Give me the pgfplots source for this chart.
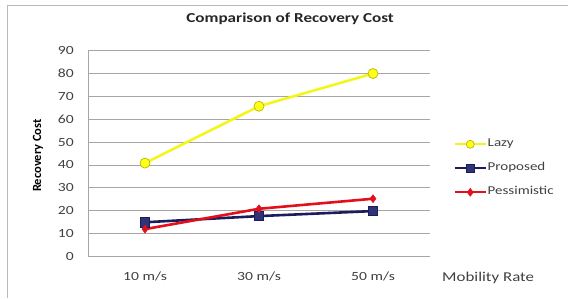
\documentclass[border=0pt]{standalone}
\usepackage{fontspec}
\setmainfont{Carlito}[FakeStretch=1.25]
\newfontfamily\yfont{Carlito}
\usepackage{pgfplots}
\pgfplotsset{compat=1.18}
\definecolor{lazyc}{HTML}{F5F51E}
\definecolor{lazyf}{HTML}{FFFF1A}
\definecolor{lazye}{HTML}{B8B800}
\definecolor{propc}{HTML}{1C1C5C}
\definecolor{propf}{HTML}{2F3477}
\definecolor{pessc}{HTML}{E3101C}
\definecolor{gridc}{HTML}{A6A6A6}
\definecolor{txtc}{HTML}{404040}
\begin{document}
\begin{tikzpicture}[x=1pt,y=1pt]
\path[use as bounding box] (0,0) rectangle (568,298);
\draw[gray!55, line width=0.8pt] (7,0)--(7,293)--(568,293);
\begin{axis}[
  at={(88pt,41.7pt)}, anchor=south west,
  width=342pt, height=205.6pt, scale only axis,
  xmin=-0.5, xmax=2.5, ymin=0, ymax=90,
  xtick={0,1,2}, xticklabels={10 m/s,30 m/s,50 m/s},
  ytick={0,10,...,90},
  axis lines=left, axis line style={-, draw=gridc, line width=0.8pt},
  major tick length=0pt,
  ymajorgrids, grid style={gridc, line width=0.8pt},
  /pgf/number format/assume math mode=true,
  tick label style={font=\fontsize{12.5}{14}\selectfont, text=txtc},
  yticklabel style={inner sep=0pt, xshift=-14pt},
  xticklabel style={inner sep=0pt, yshift=-15pt},
  title={\textbf{Comparison of Recovery Cost}},
  title style={at={(rel axis cs:0.591,1.125)}, anchor=center, font=\fontsize{13.7}{15}\selectfont, text=black!85},
  xlabel={Mobility Rate},
  xlabel style={at={(rel axis cs:1.17,-0.1055)}, anchor=center, font=\fontsize{13.5}{15}\selectfont, text=txtc},
  ylabel={\yfont\bfseries Recovery Cost},
  ylabel style={at={(rel axis cs:-0.146,0.49)}, anchor=center, rotate=0, font=\fontsize{12.5}{14}\selectfont, text=black},
  legend style={at={(rel axis cs:1.069,0.428)}, anchor=west, draw=none, fill=none, inner sep=0pt,
    row sep=11pt, font=\fontsize{12}{14}\selectfont, text=txtc,
    nodes={inner sep=1pt, text height=8pt, text depth=3pt, anchor=west}},
  legend cell align=left,
  legend image post style={line width=1.9pt, mark size=4pt},
  legend image code/.code={\draw[mark repeat=2,mark phase=2] plot coordinates {(0pt,0pt) (15.5pt,0pt) (31pt,0pt)};},
]
\addplot[lazyc, line width=2.6pt, mark=*, mark size=5pt, mark options={fill=lazyf, draw=lazye, line width=0.7pt}]
  coordinates {(0,40.8) (1,65.7) (2,80)};
\addlegendentry{Lazy}
\addplot[propc, line width=2.6pt, mark=square*, mark size=4.7pt, mark options={fill=propf, draw=propc, line width=0.8pt}]
  coordinates {(0,14.9) (1,17.6) (2,19.8)};
\addlegendentry{Proposed}
\addplot[pessc, line width=2.6pt, mark=diamond*, mark size=4pt, mark options={fill=pessc, draw=pessc, line width=0.5pt}]
  coordinates {(0,11.9) (1,20.8) (2,25.2)};
\addlegendentry{Pessimistic}
\end{axis}
\end{tikzpicture}
\end{document}
